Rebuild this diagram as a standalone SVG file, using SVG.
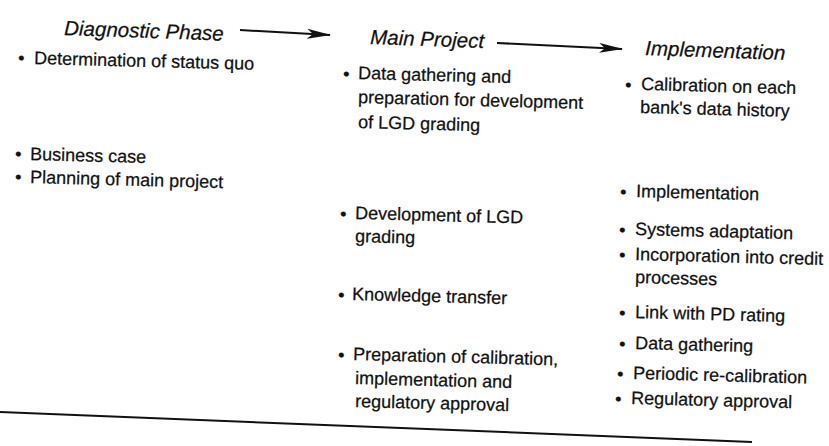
<svg xmlns="http://www.w3.org/2000/svg" width="829" height="446" viewBox="0 0 829 446">
  <style>
    text { font-family: "Liberation Sans", Arial, sans-serif; font-size: 18px; fill: #111; stroke: #111; stroke-width: 0.25; }
    .head { font-style: italic; font-size: 20.5px; }
    .conn { stroke: #111; stroke-width: 2; fill: none; }
  </style>
  <defs>
    <marker id="arrow" viewBox="0 0 24 10" refX="23" refY="5" markerWidth="24" markerHeight="10" markerUnits="userSpaceOnUse" orient="auto">
      <path d="M0,0 L24,5 L0,10 L6,5 Z" fill="#111"/>
    </marker>
  </defs>
  <rect width="829" height="446" fill="#fff"/>

  <!-- phase headings -->
  <g id="phase-diagnostic"><text class="head" x="64" y="35" transform="rotate(2 64 35)">Diagnostic Phase</text></g>
  <g id="phase-main"><text class="head" x="370" y="44" transform="rotate(2 370 44)">Main Project</text></g>
  <g id="phase-implementation"><text class="head" x="645" y="55" transform="rotate(2 645 55)">Implementation</text></g>

  <!-- arrows between phases, and the rule under the figure -->
  <g id="connectors">
    <path class="conn" d="M240,30 L330,35" marker-end="url(#arrow)"/>
    <path class="conn" d="M497,43 L622,49" marker-end="url(#arrow)"/>
    <path d="M0,412 L752,442" stroke="#111" stroke-width="2"/>
  </g>

  <!-- diagnostic phase items -->
  <g id="diagnostic-items">
    <text x="18" y="64" transform="rotate(1.5 18 64)">•</text><text x="34" y="64" transform="rotate(1.5 34 64)">Determination of status quo</text>
    <text x="15" y="160" transform="rotate(1.5 15 160)">•</text><text x="30" y="160" transform="rotate(1.5 30 160)">Business case</text>
    <text x="15" y="183" transform="rotate(1.5 15 183)">•</text><text x="30" y="183" transform="rotate(1.5 30 183)">Planning of main project</text>
  </g>

  <!-- main project items -->
  <g id="main-items">
    <text x="343" y="80" transform="rotate(1.5 343 80)">•</text><text x="358" y="79" transform="rotate(1.5 358 79)">Data gathering and</text>
    <text x="358" y="103" transform="rotate(1.5 358 103)">preparation for development</text>
    <text x="358" y="128" transform="rotate(1.5 358 128)">of LGD grading</text>
    <text x="340" y="220" transform="rotate(1.5 340 220)">•</text><text x="355" y="219" transform="rotate(1.5 355 219)">Development of LGD</text>
    <text x="355" y="242" transform="rotate(1.5 355 242)">grading</text>
    <text x="338" y="301" transform="rotate(1.5 338 301)">•</text><text x="352" y="300" transform="rotate(1.5 352 300)">Knowledge transfer</text>
    <text x="338" y="361" transform="rotate(1.5 338 361)">•</text><text x="353" y="360" transform="rotate(1.5 353 360)">Preparation of calibration,</text>
    <text x="355" y="384" transform="rotate(1.5 355 384)">implementation and</text>
    <text x="355" y="407" transform="rotate(1.5 355 407)">regulatory approval</text>
  </g>

  <!-- implementation items -->
  <g id="implementation-items">
    <text x="625" y="91" transform="rotate(1.5 625 91)">•</text><text x="641" y="90" transform="rotate(1.5 641 90)">Calibration on each</text>
    <text x="640" y="113" transform="rotate(1.5 640 113)">bank's data history</text>
    <text x="620" y="198" transform="rotate(1.5 620 198)">•</text><text x="636" y="197" transform="rotate(1.5 636 197)">Implementation</text>
    <text x="619" y="236" transform="rotate(1.5 619 236)">•</text><text x="635" y="235" transform="rotate(1.5 635 235)">Systems adaptation</text>
    <text x="619" y="261" transform="rotate(1.5 619 261)">•</text><text x="635" y="260" transform="rotate(1.5 635 260)">Incorporation into credit</text>
    <text x="635" y="283" transform="rotate(1.5 635 283)">processes</text>
    <text x="619" y="319" transform="rotate(1.5 619 319)">•</text><text x="635" y="318" transform="rotate(1.5 635 318)">Link with PD rating</text>
    <text x="619" y="350" transform="rotate(1.5 619 350)">•</text><text x="635" y="349" transform="rotate(1.5 635 349)">Data gathering</text>
    <text x="617" y="380" transform="rotate(1.5 617 380)">•</text><text x="633" y="379" transform="rotate(1.5 633 379)">Periodic re-calibration</text>
    <text x="615" y="405" transform="rotate(1.5 615 405)">•</text><text x="631" y="404" transform="rotate(1.5 631 404)">Regulatory approval</text>
  </g>
</svg>
